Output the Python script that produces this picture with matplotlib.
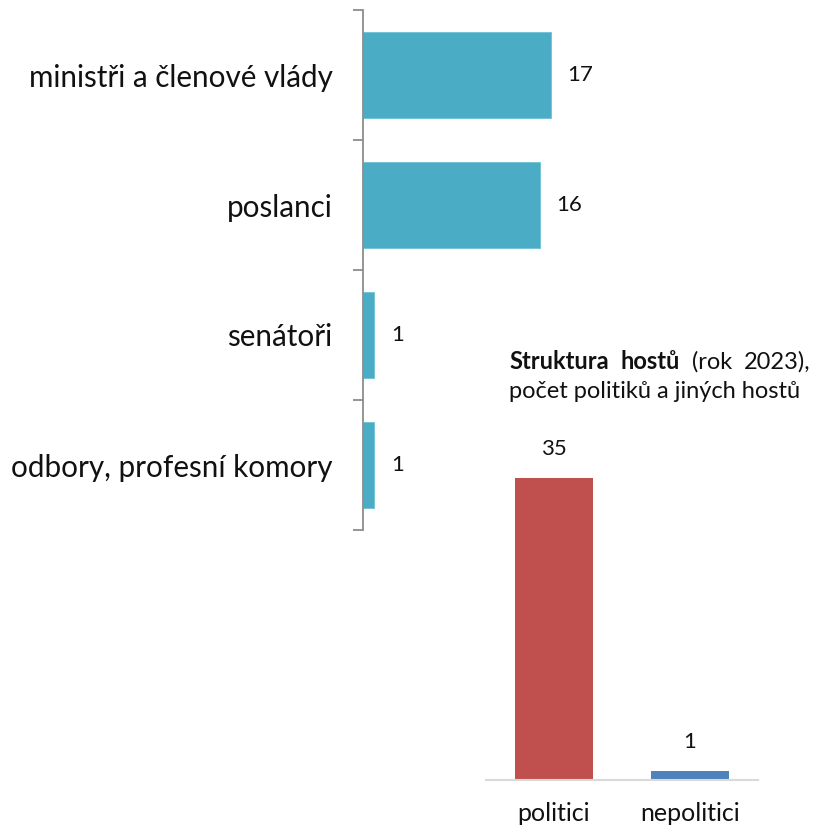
import numpy as np
import matplotlib.pyplot as plt

# hosté podle funkce
categories = ['ministři a členové vlády', 'poslanci', 'senátoři',
              'odbory, profesní komory']
counts = [17, 16, 1, 1]

# politici vs. ostatní
groups = ['politici', 'nepolitici']
group_counts = [35, 1]
group_colors = ['#C0504D', '#4F81BD']

plt.rcParams['font.family'] = ['Lato', 'DejaVu Sans']

W, H = 820, 827
fig = plt.figure(figsize=(W / 100, H / 100), dpi=100)


def px_axes(left, top, right, bottom):
    return fig.add_axes([left / W, 1 - bottom / H, (right - left) / W,
                         (bottom - top) / H])


# --- horizontal bars ---
ax1 = px_axes(363, 10, 584, 530)
y = np.arange(len(categories))
ax1.barh(y, counts, height=0.66, color='#4BACC6', edgecolor='#6FC0D6',
         linewidth=0.6)
ax1.set_xlim(0, 20)
ax1.set_ylim(len(categories) - 0.5, -0.5)
ax1.set_yticks(np.arange(len(categories) + 1) - 0.5, minor=False)
ax1.set_yticklabels([])
ax1.set_yticks(y, minor=True)
ax1.set_yticklabels(categories, minor=True, fontsize=21.3, color='#111111')
ax1.tick_params(axis='y', which='major', length=7, width=1.3,
                color='#8C8C8C', direction='out')
ax1.tick_params(axis='y', which='minor', length=0, pad=22)
ax1.set_xticks([])
for side in ['top', 'right', 'bottom']:
    ax1.spines[side].set_visible(False)
ax1.spines['left'].set_color('#8C8C8C')
ax1.spines['left'].set_linewidth(1.3)
for yi, v in zip(y, counts):
    ax1.annotate(str(v), (v, yi), xytext=(12, 0), textcoords='offset points',
                 va='center', ha='left', fontsize=16, color='#111111')

# --- vertical bars ---
ax2 = px_axes(486, 435, 758, 780)
x = np.arange(len(groups))
ax2.bar(x, group_counts, width=0.58, color=group_colors)
ax2.set_xlim(-0.5, len(groups) - 0.5)
ax2.set_ylim(0, 40)
ax2.set_yticks([])
ax2.set_xticks(x)
ax2.set_xticklabels(groups, fontsize=18, color='#111111')
ax2.tick_params(axis='x', length=0, pad=16)
for side in ['top', 'right', 'left']:
    ax2.spines[side].set_visible(False)
ax2.spines['bottom'].set_color('#D9D9D9')
ax2.spines['bottom'].set_linewidth(1.5)
for xi, v in zip(x, group_counts):
    ax2.annotate(str(v), (xi, v), xytext=(0, 14), textcoords='offset points',
                 ha='center', va='bottom', fontsize=16, color='#111111')

# justified title: first line spread word by word between the margins
x0, x1 = 509, 811
title_words = [('Struktura', 'bold'), ('hostů', 'bold'),
               ('(rok', 'normal'), ('2023),', 'normal')]
texts = [fig.text(0, 1 - 369 / H, w, fontsize=17, fontweight=wt,
                  ha='left', va='baseline', color='#111111')
         for w, wt in title_words]
renderer = fig.canvas.get_renderer()
widths = [t.get_window_extent(renderer).width for t in texts]
gap = (x1 - x0 - sum(widths)) / (len(texts) - 1)
xp = x0
for t, w in zip(texts, widths):
    t.set_x(xp / W)
    xp += w + gap
fig.text(x0 / W, 1 - 398 / H, 'počet politiků a jiných hostů', fontsize=17,
         ha='left', va='baseline', color='#111111')

fig.savefig('out.png', dpi=100, facecolor='white')
